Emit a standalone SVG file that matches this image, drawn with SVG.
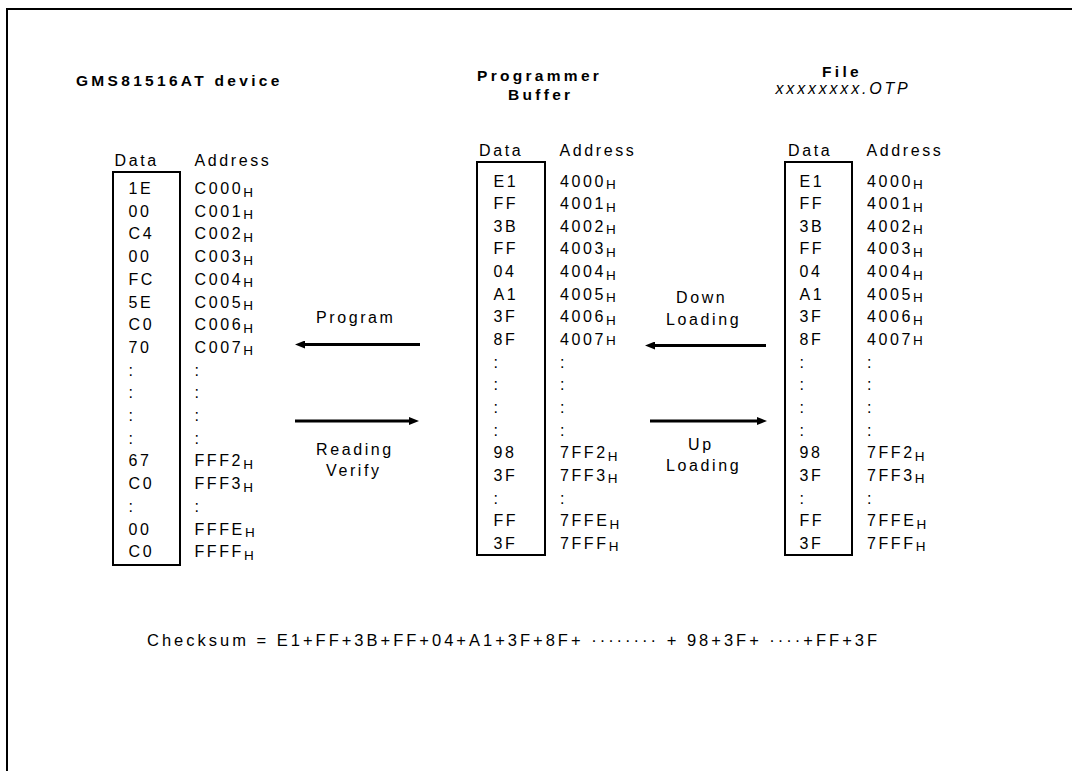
<svg xmlns="http://www.w3.org/2000/svg" width="1072" height="771" viewBox="0 0 1072 771">
<style>
text{font-family:"Liberation Sans",Arial,Helvetica,sans-serif;fill:#000}
.t{font-size:16px;letter-spacing:2.6px}
.b{font-size:15.5px;font-weight:bold;letter-spacing:3.3px}
.i{font-size:16px;font-style:italic;letter-spacing:2.8px}
.c{font-size:16.5px;letter-spacing:3px}
.h{font-size:13.5px;letter-spacing:0}
.box{fill:none;stroke:#000;stroke-width:2}
.frame{fill:none;stroke:#000;stroke-width:2}
.arr{stroke:#000;stroke-width:3;fill:none;marker-end:url(#ah)}
</style>
<defs>
<marker id="ah" markerUnits="userSpaceOnUse" markerWidth="10" markerHeight="8" refX="0" refY="4" orient="auto">
<path d="M0,0 L10,4 L0,8 z" fill="#000"/>
</marker>
</defs>
<rect width="1072" height="771" fill="#fff"/>
<path class="frame" d="M7,771 V9 H1072"/>

<g id="device">
<text class="b" x="76" y="86">GMS81516AT device</text>
<text class="t" x="114.5" y="165.5">Data</text>
<text class="t" x="194.5" y="165.5">Address</text>
<rect class="box" x="113" y="172" width="67" height="393"/>
<g class="t">
<text x="128.5" y="194">1E</text><text x="194.5" y="194">C000<tspan class="h" dy="2.5">H</tspan></text>
<text x="128.5" y="216.7">00</text><text x="194.5" y="216.7">C001<tspan class="h" dy="2.5">H</tspan></text>
<text x="128.5" y="239.4">C4</text><text x="194.5" y="239.4">C002<tspan class="h" dy="2.5">H</tspan></text>
<text x="128.5" y="262.1">00</text><text x="194.5" y="262.1">C003<tspan class="h" dy="2.5">H</tspan></text>
<text x="128.5" y="284.8">FC</text><text x="194.5" y="284.8">C004<tspan class="h" dy="2.5">H</tspan></text>
<text x="128.5" y="307.5">5E</text><text x="194.5" y="307.5">C005<tspan class="h" dy="2.5">H</tspan></text>
<text x="128.5" y="330.2">C0</text><text x="194.5" y="330.2">C006<tspan class="h" dy="2.5">H</tspan></text>
<text x="128.5" y="352.9">70</text><text x="194.5" y="352.9">C007<tspan class="h" dy="2.5">H</tspan></text>
<text x="128.5" y="375.6">:</text><text x="194.5" y="375.6">:</text>
<text x="128.5" y="398.3">:</text><text x="194.5" y="398.3">:</text>
<text x="128.5" y="421">:</text><text x="194.5" y="421">:</text>
<text x="128.5" y="443.7">:</text><text x="194.5" y="443.7">:</text>
<text x="128.5" y="466.4">67</text><text x="194.5" y="466.4">FFF2<tspan class="h" dy="2.5">H</tspan></text>
<text x="128.5" y="489.1">C0</text><text x="194.5" y="489.1">FFF3<tspan class="h" dy="2.5">H</tspan></text>
<text x="128.5" y="511.8">:</text><text x="194.5" y="511.8">:</text>
<text x="128.5" y="534.5">00</text><text x="194.5" y="534.5">FFFE<tspan class="h" dy="2.5">H</tspan></text>
<text x="128.5" y="557.2">C0</text><text x="194.5" y="557.2">FFFF<tspan class="h" dy="2.5">H</tspan></text>
</g>
</g>

<g id="buffer">
<text class="b" x="477" y="80.5">Programmer</text>
<text class="b" x="508" y="100">Buffer</text>
<text class="t" x="479" y="156">Data</text>
<text class="t" x="559.5" y="156">Address</text>
<rect class="box" x="477" y="162" width="68" height="393"/>
<g class="t">
<text x="493.5" y="186.5">E1</text><text x="560" y="186.5">4000<tspan class="h" dy="2.5">H</tspan></text>
<text x="493.5" y="209.1">FF</text><text x="560" y="209.1">4001<tspan class="h" dy="2.5">H</tspan></text>
<text x="493.5" y="231.8">3B</text><text x="560" y="231.8">4002<tspan class="h" dy="2.5">H</tspan></text>
<text x="493.5" y="254.4">FF</text><text x="560" y="254.4">4003<tspan class="h" dy="2.5">H</tspan></text>
<text x="493.5" y="277.1">04</text><text x="560" y="277.1">4004<tspan class="h" dy="2.5">H</tspan></text>
<text x="493.5" y="299.7">A1</text><text x="560" y="299.7">4005<tspan class="h" dy="2.5">H</tspan></text>
<text x="493.5" y="322.3">3F</text><text x="560" y="322.3">4006<tspan class="h" dy="2.5">H</tspan></text>
<text x="493.5" y="345">8F</text><text x="560" y="345">4007<tspan class="h">H</tspan></text>
<text x="493.5" y="367.6">:</text><text x="560" y="367.6">:</text>
<text x="493.5" y="390.3">:</text><text x="560" y="390.3">:</text>
<text x="493.5" y="412.9">:</text><text x="560" y="412.9">:</text>
<text x="493.5" y="435.5">:</text><text x="560" y="435.5">:</text>
<text x="493.5" y="458.2">98</text><text x="560" y="458.2">7FF2<tspan class="h" dy="2.5">H</tspan></text>
<text x="493.5" y="480.8">3F</text><text x="560" y="480.8">7FF3<tspan class="h" dy="2.5">H</tspan></text>
<text x="493.5" y="503.5">:</text><text x="560" y="503.5">:</text>
<text x="493.5" y="526.1">FF</text><text x="560" y="526.1">7FFE<tspan class="h" dy="2.5">H</tspan></text>
<text x="493.5" y="548.7">3F</text><text x="560" y="548.7">7FFF<tspan class="h" dy="2.5">H</tspan></text>
</g>
</g>

<g id="file">
<text class="b" x="842" y="76.5" text-anchor="middle">File</text>
<text class="i" x="843" y="94" text-anchor="middle">xxxxxxxx.OTP</text>
<text class="t" x="788" y="156">Data</text>
<text class="t" x="866.5" y="156">Address</text>
<rect class="box" x="785" y="162" width="67" height="393"/>
<g class="t">
<text x="799.5" y="186.5">E1</text><text x="867" y="186.5">4000<tspan class="h" dy="2.5">H</tspan></text>
<text x="799.5" y="209.1">FF</text><text x="867" y="209.1">4001<tspan class="h" dy="2.5">H</tspan></text>
<text x="799.5" y="231.8">3B</text><text x="867" y="231.8">4002<tspan class="h" dy="2.5">H</tspan></text>
<text x="799.5" y="254.4">FF</text><text x="867" y="254.4">4003<tspan class="h" dy="2.5">H</tspan></text>
<text x="799.5" y="277.1">04</text><text x="867" y="277.1">4004<tspan class="h" dy="2.5">H</tspan></text>
<text x="799.5" y="299.7">A1</text><text x="867" y="299.7">4005<tspan class="h" dy="2.5">H</tspan></text>
<text x="799.5" y="322.3">3F</text><text x="867" y="322.3">4006<tspan class="h" dy="2.5">H</tspan></text>
<text x="799.5" y="345">8F</text><text x="867" y="345">4007<tspan class="h">H</tspan></text>
<text x="799.5" y="367.6">:</text><text x="867" y="367.6">:</text>
<text x="799.5" y="390.3">:</text><text x="867" y="390.3">:</text>
<text x="799.5" y="412.9">:</text><text x="867" y="412.9">:</text>
<text x="799.5" y="435.5">:</text><text x="867" y="435.5">:</text>
<text x="799.5" y="458.2">98</text><text x="867" y="458.2">7FF2<tspan class="h" dy="2.5">H</tspan></text>
<text x="799.5" y="480.8">3F</text><text x="867" y="480.8">7FF3<tspan class="h" dy="2.5">H</tspan></text>
<text x="799.5" y="503.5">:</text><text x="867" y="503.5">:</text>
<text x="799.5" y="526.1">FF</text><text x="867" y="526.1">7FFE<tspan class="h" dy="2.5">H</tspan></text>
<text x="799.5" y="548.7">3F</text><text x="867" y="548.7">7FFF<tspan class="h" dy="2.5">H</tspan></text>
</g>
</g>

<g id="connectors">
<line class="arr" x1="420" y1="344.5" x2="305" y2="344.5"/>
<line class="arr" x1="295" y1="421" x2="409" y2="421"/>
<line class="arr" x1="766" y1="345.5" x2="655" y2="345.5"/>
<line class="arr" x1="650" y1="421" x2="757" y2="421"/>
</g>

<g id="labels" class="t">
<text x="316" y="323">Program</text>
<text x="316" y="454.5">Reading</text>
<text x="326" y="476">Verify</text>
<text x="676" y="303">Down</text>
<text x="666" y="325">Loading</text>
<text x="688" y="449.5">Up</text>
<text x="666" y="471">Loading</text>
</g>

<g id="checksum">
<text class="c" x="147" y="646">Checksum = E1+FF+3B+FF+04+A1+3F+8F+ ········ + 98+3F+ ····+FF+3F</text>
</g>
</svg>
